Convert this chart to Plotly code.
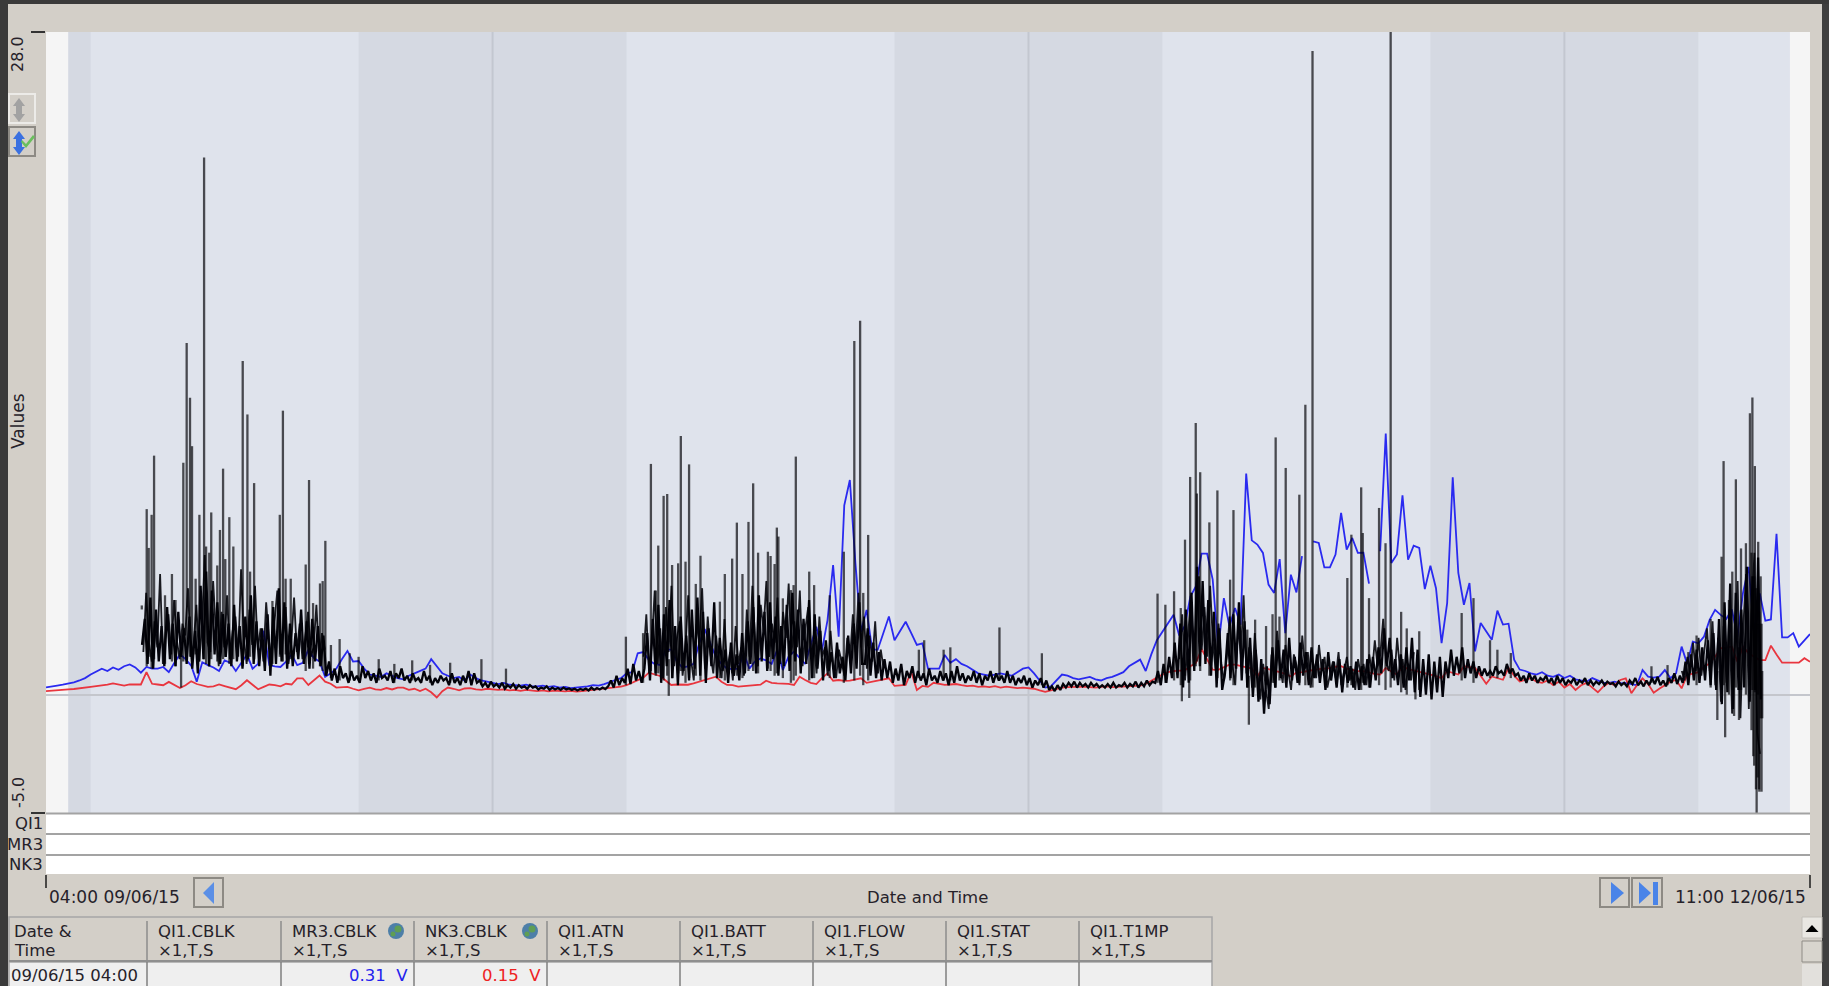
import pandas as pd
import plotly.graph_objects as go

W, H = 1829, 986
START = pd.Timestamp("2015-06-09 04:00")
END_HOURS = 79

# day / night shading, hours after the start
night_start = [1, 14, 38, 62]
night_end = [2, 26, 50, 74]
midnight = [20, 44, 68]
shade_start = 1
shade_end = 78.1

# 15 minute readings, 4 per hour
mr3_cblk = [
    .31,.33,.38,.42, .46,.52,.6,.7, .85,.98,1.1,1.0, 1.15,1.05,1.2,1.28,
    1.15,.93,1.17,1.1, 1.1,1.17,.95,1.35, 1.7,1.5,1.23,.55, 1.37,1.25,1.15,1.0,
    1.45,1.35,1.0,1.35, 1.7,1.1,1.3,2.7, 1.25,1.2,1.17,1.4, 1.7,1.25,1.35,1.9,
    1.55,1.4,.75,.9, 1.1,1.5,1.85,1.4, 1.42,1.1,.85,.8, .75,.9,.8,.7,
    .65,.8,.9,1.0, 1.1,1.5,1.2,.9, .8,.7,.75,.6, .85,.7,.6,.55,
    .5,.45,.5,.42, .4,.38,.42,.36, .35,.38,.33,.36, .3,.33,.28,.3,
    .3,.35,.4,.38, .45,.55,.62,.7, .9,.95,1.75,1.8, 1.46,1.3,1.25,1.9,
    1.9,1.4,1.15,1.2, 1.3,2.17,2.77,2.17, 1.6,1.3,1.1,1.08, 1.1,1.75,1.1,1.4,
    1.53,1.45,1.3,1.9, 1.04,1.6,1.82,1.55, 1.3,2.1,2.87,1.86, 3.15,5.48,2.45,8.0,
    9.07,5.55,2.66,3.58, 1.9,1.9,2.6,3.3, 2.3,2.7,3.08,2.6, 2.1,2.17,1.1,1.1,
    1.1,1.68,1.35,1.5, 1.3,1.2,1.05,.9, .85,.8,.85,.9, .85,.8,.95,1.1,
    1.15,.9,.6,.3, .35,.6,.85,.8, .7,.65,.7,.75, .65,.6,.7,.75,
    .85,.95,1.2,1.35, 1.48,1.0,1.7,2.3, 2.67,3.0,3.38,2.5, 2.9,4.15,4.58,5.96,
    5.96,4.86,1.97,4.08, 2.89,3.66,2.96,9.34, 6.52,6.34,5.99,4.65, 4.3,5.73,2.6,5.07,
    4.32,5.85,None,6.48, 6.41,5.38,5.38,5.92, 7.68,6.13,6.62,5.99, 6.0,4.69,None,6.06,
    11.03,5.56,5.92,8.42, 5.7,6.3,6.2,4.46, 5.45,4.5,2.18,3.87, 9.18,5.14,3.8,4.72,
    1.83,3.03,2.7,2.32, 3.55,2.96,3.0,1.48, 1.06,1.0,.9,.85, .95,.8,.75,.85,
    .7,.8,.65,.6, .55,.7,.6,.5, .5,.55,.48,.5, .45,.4,1.04,.76,
    .72,.76,1.04,.7, .9,2.03,1.3,2.24, 2.17,2.45,3.15,3.58, 3.37,3.2,3.6,2.45,
    4.3,5.4,2.6,4.28, 3.13,3.18,6.8,2.42, 2.42,2.6,2.03,2.3, 2.56,
]
nk3_cblk = [
    .15,.16,.18,.2, .22,.24,.26,.3, .33,.36,.38,.42, .48,.42,.38,.43,
    .43,.43,.95,.46, .43,.4,.54,.42, .28,.4,.57,.45, .38,.33,.35,.43,
    .36,.3,.23,.4, .61,.42,.23,.33, .43,.4,.35,.46, .43,.69,.69,.41,
    .6,.81,.55,.46, .3,.32,.33,.25, .18,.24,.3,.22, .2,.28,.22,.3,
    .3,.2,.25,.15, .25,.1,-.12,.15, .3,.25,.18,.26, .28,.22,.2,.25,
    .23,.2,.22,.18, .2,.16,.2,.18, .15,.18,.14,.17, .15,.14,.16,.13,
    .15,.18,.2,.22, .25,.28,.3,.34, .4,.5,.6,.72, .93,.85,.79,.6,
    .41,.43,.44,.42, .48,.55,.62,.7, .76,.55,.41,.4, .34,.36,.38,.41,
    .42,.59,.5,.48, .48,.46,.41,.76, .62,.5,.45,.7, .9,.59,.62,.58,
    .59,.65,.69,.5, .55,.62,.66,.69, .37,.38,.41,.97, .2,.37,.33,.5,
    .45,.41,.43,.45, .4,.36,.38,.33, .35,.32,.36,.3, .34,.31,.28,.3,
    .28,.25,.18,.12, .18,.25,.3,.32, .33,.36,.34,.32, .3,.33,.35,.32,
    .33,.36,.34,.37, .38,.45,.6,.72, .85,.95,1.0,1.03, 1.03,1.2,1.34,1.93,
    1.5,1.06,1.05,1.15, 1.27,1.27,1.22,1.15, 1.1,.77,1.13,1.08, 1.0,.95,.88,.77,
    .94,.95,1.0,1.05, 1.08,1.1,1.12,1.18, 1.2,1.1,1.05,1.0, .99,.92,.88,.85,
    1.13,.98,.85,1.2, 1.08,1.03,.98,.9, .85,.78,.7,.99, .92,.85,1.2,1.18,
    1.13,.8,.46,.77, .7,.63,1.13,.8, .56,.62,.7,.55, .5,.6,.4,.55,
    .3,.45,.2,.4, .5,.3,.1,.35, .5,.4,.62,.69, .06,.4,.69,.45,
    .08,.25,.41,.55, .62,.27,.83,.88, .95,1.18,1.32,1.6, 1.96,2.0,2.03,1.39,
    2.03,1.75,1.6,1.46, 1.46,2.07,1.7,1.35, 1.35,1.35,1.35,1.54, 1.39,
]

# QI1.CBLK dense part, one reading per 7.5 minutes from hour 4.3
qi1_burst_1 = [
    2.1,3.2,1.3,4.1,1.1,3.6,1.4,2.9,1.2,3.7,1.5,3.0,1.2,3.5,1.6,2.8,1.3,3.3,1.1,2.7,0.9,4.6,
    1.5,5.2,1.2,4.4,1.7,3.9,1.3,3.4,1.6,3.0,1.2,3.8,1.4,2.9,1.1,3.3,1.5,4.2,1.3,3.1,1.2,2.8,
    1.0,3.4,0.8,3.7,1.3,4.5,1.4,3.9,1.1,3.0,1.2,2.6,1.5,3.6,1.3,3.1,1.1,3.2,1.4,2.9,1.2,2.5,
]
qi1_quiet_1 = [
    0.8,1.4,0.6,1.1,0.5,1.2,0.7,0.9,0.5,1.0,0.6,0.8,0.5,1.2,0.7,1.0,0.6,0.9,0.5,1.1,0.7,0.8,
    0.6,1.0,0.5,0.9,0.7,1.1,0.6,0.8,0.5,0.9,0.6,0.7,0.5,1.0,0.6,0.8,0.4,0.7,0.5,0.8,0.6,0.7,
    0.4,0.9,0.5,0.7,0.4,0.8,0.5,1.0,0.4,0.9,0.5,
    0.6,0.35,0.5,0.3,0.55,0.35,0.45,0.3,0.5,0.25,0.4,0.3,0.45,0.25,0.4,0.3,0.35,0.25,0.4,0.3,
    0.35,0.22,0.3,0.25,0.35,0.2,0.3,0.22,0.28,0.2,0.3,0.22,0.26,0.2,0.25,0.18,0.24,0.2,0.26,
    0.18,0.3,0.2,0.28,0.22,0.3,0.24,
    0.35,0.6,0.3,0.8,0.4,0.7,0.5,1.1,0.45,1.3,0.6,1.0,0.5,
]
qi1_burst_2 = [
    1.1,2.6,0.6,3.2,0.9,3.8,0.5,3.4,1.2,4.0,0.7,2.9,0.4,3.3,1.0,2.5,0.6,3.6,1.1,4.1,0.8,3.5,
    0.5,2.8,1.2,3.9,0.7,2.4,1.0,1.9,0.5,2.2,0.8,1.7,0.6,2.6,0.9,3.1,1.3,3.7,0.9,4.2,1.4,3.5,
    1.0,3.9,1.5,3.3,0.8,2.9,1.2,3.8,1.0,4.3,1.4,3.6,0.9,3.2,1.3,4.0,0.7,3.4,1.1,2.7,0.6,2.3,
    1.0,1.8,0.7,2.2,0.9,1.6,0.6,2.5,0.9,3.0,1.1,3.9,1.3,
    1.3,2.8,0.8,2.2,0.7,1.8,0.6,1.5,
]
qi1_quiet_2 = [
    0.7,1.4,0.5,1.1,0.6,1.3,0.4,1.0,0.7,1.2,0.5,1.0,0.6,0.9,0.4,1.1,0.6,0.8,0.5,1.0,0.6,0.9,
    0.4,1.0,0.5,1.2,0.6,0.9,0.5,0.8,0.6,1.0,0.5,0.9,0.4,0.8,0.6,1.0,0.5,0.9,0.6,0.8,0.5,1.0,
    0.5,0.8,0.4,0.7,0.5,0.8,0.4,0.7,0.3,0.6,0.4,0.7,0.3,0.6,
    0.2,0.35,0.15,0.4,0.2,0.45,0.3,0.5,0.35,0.55,0.3,0.5,0.35,0.45,0.3,0.5,0.35,0.45,0.3,0.4,
    0.3,0.45,0.3,0.5,0.3,0.4,0.35,0.5,0.3,0.45,0.35,0.55,0.3,0.5,0.35,0.6,0.4,0.55,
    0.5,1.0,0.4,1.3,0.5,1.6,0.7,2.2,
]
qi1_burst_3 = [
    0.7,3.0,0.3,3.6,0.5,4.3,1.0,5.4,1.2,4.8,1.3,4.0,0.8,3.5,0.3,2.8,0.2,
    0.9,2.6,0.7,3.4,1.1,3.9,0.6,3.1,0.3,2.4,-0.1,1.9,-0.3,1.5,-0.8,1.2,-0.4,2.0,0.3,2.3,0.7,1.9,
    0.3,2.4,0.6,1.6,0.5,2.2,0.8,1.8,0.4,2.0,0.7,1.7,0.5,1.5,0.2,1.8,0.6,1.4,0.3,1.5,0.1,1.3,
    0.5,1.2,0.3,1.4,0.2,1.2,0.4,1.5,0.3,1.6,0.6,2.0,0.9,2.8,1.2,2.4,0.7,1.5,0.4,1.7,0.3,2.0,
    0.6,2.4,0.1,1.9,-0.1,1.5,0.0,1.7,-0.2,1.4,0.1,1.6,-0.1,1.4,
    0.7,1.9,0.8,1.6,0.9,2.0,0.7,1.5,0.9,1.4,0.7,1.2,0.8,1.1,0.8,1.0,0.8,1.2,0.9,1.0,0.8,1.3,
    0.9,1.1,0.8,
]
qi1_quiet_3 = [
    0.9,0.6,0.8,0.5,0.9,0.6,0.8,0.5,0.7,0.6,0.8,0.5,0.7,0.4,0.8,0.5,0.7,0.4,0.6,0.5,0.7,0.4,
    0.6,0.5,0.7,0.4,0.6,0.4,0.55,0.45,0.6,0.4,0.55,0.45,0.5,0.35,0.55,0.4,0.5,0.35,0.6,0.45,
    0.7,0.4,0.55,0.35,0.6,0.4,0.7,0.45,0.75,0.4,0.6,0.35,0.7,0.5,0.9,0.45,0.8,
]
qi1_burst_4 = [
    0.5,1.4,0.4,1.7,0.6,1.9,0.5,2.0,0.6,2.3,0.4,2.6,0.2,3.2,-0.4,3.9,0.1,4.7,-0.6,4.3,0.2,3.6,
    0.3,5.4,-0.3,5.0,0.2,5.8,-0.2,
]

# readings in between the ones above, for the busy stretches
qi1_between_1 = [
    1.8,4.3,2.2,1.4,3.1,2.0,5.1,1.3,2.6,3.4,1.7,4.0,2.3,1.5,3.0,2.5,4.5,1.6,2.1,3.8,1.4,2.9,
    5.9,2.2,1.8,4.8,2.6,1.2,3.5,2.0,4.2,1.5,2.7,3.3,1.6,5.3,2.4,1.3,3.6,2.1,4.6,1.9,2.8,1.4,
    3.9,2.3,1.2,3.1,4.4,1.7,2.5,3.7,1.3,2.2,4.1,1.8,3.0,1.5,2.4,3.5,1.6,2.0,3.8,1.4,2.6,1.9,
]
qi1_between_2 = [
    1.6,3.4,0.9,2.2,4.4,1.3,2.8,0.7,3.7,1.8,4.6,1.2,2.4,3.1,0.8,1.9,4.2,1.5,0.6,3.0,2.2,4.5,
    1.1,3.3,1.7,0.9,2.5,1.4,0.7,3.2,1.0,1.8,0.6,2.9,1.3,2.0,0.8,3.6,1.6,4.6,2.2,1.2,3.8,2.7,
    4.8,1.6,3.0,2.2,4.1,1.3,3.5,2.4,4.7,1.7,3.1,2.0,4.4,1.2,2.8,3.7,1.5,2.3,0.9,3.3,1.6,2.0,
    0.8,2.7,1.2,0.7,1.9,1.3,0.8,2.4,1.5,3.4,1.8,4.3,2.0,3.3,1.1,2.5,1.4,3.1,0.9,1.9,1.1,
]
qi1_between_3 = [
    1.5,3.4,0.6,2.4,4.0,1.2,3.0,5.0,1.9,3.7,1.6,4.6,2.2,1.0,3.0,1.3,0.6,
    1.6,3.3,1.2,0.4,2.9,1.7,4.2,0.9,2.0,0.3,2.6,0.9,-0.2,1.3,0.2,-0.6,1.7,0.5,2.7,1.2,0.5,2.1,
    1.0,0.2,1.7,1.2,0.4,2.5,1.1,1.8,0.3,1.3,0.7,2.1,1.0,1.6,0.3,0.9,1.4,0.7,1.8,0.4,1.0,1.6,
    0.6,1.1,0.2,1.5,0.8,1.3,0.4,1.7,0.9,2.3,1.2,1.7,3.2,1.4,1.0,1.9,0.6,2.4,1.1,1.5,0.2,1.3,
    0.6,1.8,
]
qi1_between_4 = [
    1.0,0.6,1.6,0.9,2.2,1.0,2.4,0.8,1.8,2.8,1.0,3.1,0.4,2.4,-0.3,2.9,0.5,3.6,-0.8,2.0,4.8,
    -1.0,2.8,5.1,-0.6,3.4,6.0,-1.6,-2.5,
]
between_starts = [4.36, 26.76, 50.76, 73.26]

# isolated QI1.CBLK spikes: hour, top, bottom
spike_hours = [
    4.29,4.51,4.6,4.73,4.84,5.33,5.64,5.8,6.05,6.15,6.3,6.45,6.54,6.7,6.87,7.08,7.17,7.31,7.4,7.67,
    7.79,7.93,8.03,8.21,8.39,8.81,9.02,9.14,9.32,10.14,10.47,10.61,10.73,10.96,11.63,11.78,11.96,
    12.27,12.39,12.51,12.76,13.15,13.6,14.0,14.9,15.6,16.4,17.2,18.1,19.5,20.6,
    25.97,26.74,27.09,27.31,27.42,27.66,27.82,27.89,28.04,28.31,28.43,28.64,28.8,29.1,29.31,30.18,
    30.4,30.73,30.94,31.19,31.46,31.67,31.89,32.33,32.45,32.63,32.73,32.8,33.0,33.36,33.48,33.58,
    34.18,34.4,35.1,35.73,36.2,36.46,36.6,36.82,39.09,39.33,40.2,40.5,42.7,44.6,
    49.78,50.13,50.52,50.82,50.87,51.01,51.2,51.24,51.49,51.54,51.69,52.1,52.46,53.03,53.18,53.8,53.87,
    54.15,54.64,54.93,55.07,55.24,55.52,56.13,56.4,56.72,58.28,58.46,58.9,58.97,59.25,59.7,59.99,
    60.22,60.69,60.94,61.33,61.5,63.4,63.93,64.67,65.0,65.6,
    71.9,72.62,73.55,73.92,74.55,74.85,75.04,75.13,75.2,75.37,75.52,75.6,75.68,75.82,75.91,76.13,
    76.31,76.42,76.46,76.53,76.61,76.68,76.73,76.79,76.83,
    76.38,76.5,76.58,76.65,76.72,76.86,
]
spike_tops = [
    3.77,7.84,6.2,7.6,10.1,4.2,5.1,4.0,2.0,9.8,14.86,12.55,10.5,4.9,7.6,22.7,6.26,6.0,7.7,5.46,
    6.96,9.55,5.73,7.5,6.26,14.1,11.84,5.2,8.94,3.96,7.6,12.0,4.9,4.9,5.5,9.07,3.87,
    4.7,4.8,6.5,2.1,2.35,1.75,1.6,1.5,1.3,1.45,1.26,1.35,1.5,1.1,
    2.45,2.6,9.75,4.4,6.3,8.4,8.48,1.5,5.48,5.55,10.93,5.62,9.73,4.68,5.87,3.93,
    5.1,5.75,7.27,5.1,7.3,8.93,6.0,6.04,5.86,5.52,7.06,6.68,4.07,4.42,4.63,10.06,
    5.2,4.63,4.2,6.04,14.94,15.8,4.3,6.75,1.9,2.3,1.9,2.0,2.84,1.75,
    4.27,3.8,4.37,3.66,1.5,6.55,1.5,9.2,11.48,8.5,9.4,7.28,8.63,4.86,7.8,2.75,0.8,
    3.17,2.9,3.4,10.87,3.3,9.58,8.45,12.25,27.2,4.93,6.76,8.76,6.83,4.08,7.89,6.4,
    29.0,3.5,2.8,1.0,2.68,3.45,4.08,2.3,1.9,1.76,
    1.2,1.25,1.8,2.5,3.2,1.0,5.83,9.87,2.0,4.0,5.2,1.5,9.1,2.0,6.18,6.4,
    11.89,12.56,3.0,9.66,3.0,6.46,3.0,5.0,3.0,
    6.0,5.0,4.5,4.0,3.5,1.0,
]
spike_bases = [
    3.6,1.2,1.6,1.1,1.5,1.3,1.4,1.2,0.3,1.4,2.0,1.6,1.5,1.7,1.4,1.5,1.3,1.2,1.5,1.4,
    1.6,1.5,1.6,1.3,1.5,1.2,1.4,1.6,1.5,1.3,1.6,1.4,1.7,1.5,1.0,1.3,1.1,
    1.2,1.0,0.8,0.7,0.6,0.6,0.6,0.6,0.5,0.6,0.5,0.5,0.4,0.3,
    0.4,0.5,1.0,0.8,0.9,0.6,0.8,-0.05,0.7,0.9,1.0,0.5,0.7,0.8,0.6,0.7,
    0.6,0.9,0.8,0.7,1.0,1.0,0.9,1.1,1.0,0.8,0.9,1.1,0.7,0.5,0.6,0.8,
    0.6,0.7,0.7,0.5,0.6,0.8,0.4,0.6,0.7,0.7,0.6,0.6,0.6,0.4,
    0.5,0.5,0.6,0.4,-0.28,0.8,-0.14,0.6,1.2,1.4,1.0,0.8,0.7,0.6,0.4,0.3,-1.27,
    0.3,0.4,0.5,0.3,0.6,0.5,0.5,0.4,0.3,0.3,0.4,0.2,0.5,0.3,0.4,0.2,
    0.3,0.1,0.0,-0.2,0.2,0.6,0.5,0.7,0.7,0.7,
    0.5,0.4,0.5,0.4,0.3,-1.07,0.2,0.4,-1.8,0.0,0.2,-0.9,0.3,-1.07,0.2,0.0,
    0.4,0.2,-2.6,0.1,-5.2,0.0,-4.1,-1.0,-4.1,
    -1.5,-3.0,-4.0,-3.5,-4.0,-1.0,
]

table_columns = ["QI1.CBLK", "MR3.CBLK", "NK3.CBLK", "QI1.ATN", "QI1.BATT", "QI1.FLOW", "QI1.STAT", "QI1.T1MP"]
channel_rows = ["QI1", "MR3", "NK3"]


def stamp(hours):
    return START + pd.to_timedelta(hours, unit="h")


def px(x):
    return x / W


def py(y):
    return 1 - y / H


FONT = "DejaVu Sans"
BG = "#d3cfc8"
TEXT = "#26222a"
shapes = []
annotations = []


def box(x0, y0, x1, y1, fill=None, line=None, width=1, layer="above"):
    shapes.append(dict(type="rect", xref="paper", yref="paper", x0=px(x0), x1=px(x1), y0=py(y1), y1=py(y0),
                       fillcolor=fill, line=dict(color=line, width=width if line else 0), layer=layer))


def poly(points, fill):
    path = "M " + " L ".join(f"{px(a)},{py(b)}" for a, b in points) + " Z"
    shapes.append(dict(type="path", xref="paper", yref="paper", path=path, fillcolor=fill, line=dict(width=0), layer="above"))


def dot(x, y, r, fill):
    shapes.append(dict(type="circle", xref="paper", yref="paper", x0=px(x - r), x1=px(x + r), y0=py(y + r), y1=py(y - r),
                       fillcolor=fill, line=dict(width=0), layer="above"))


def label(x, y, text, size=16, anchor="left", angle=0, color=TEXT):
    annotations.append(dict(xref="paper", yref="paper", x=px(x), y=py(y), text=text, showarrow=False, xanchor=anchor,
                            yanchor="middle", textangle=angle, font=dict(family=FONT, size=size, color=color)))


fig = go.Figure()
fig.add_trace(go.Scatter(x=stamp(pd.Series([i * 0.25 for i in range(len(mr3_cblk))])), y=mr3_cblk, mode="lines",
                         line=dict(color="#2a2af0", width=1.8), connectgaps=False))
fig.add_trace(go.Scatter(x=stamp(pd.Series([i * 0.25 for i in range(len(nk3_cblk))])), y=nk3_cblk, mode="lines",
                         line=dict(color="#e9363f", width=1.8)))

between_parts = [qi1_between_1, qi1_between_2, qi1_between_3, qi1_between_4]
for start, part in zip(between_starts, between_parts):
    fig.add_trace(go.Scatter(x=stamp(pd.Series([start + i * 0.125 for i in range(len(part))])), y=part, mode="lines",
                             line=dict(color="rgba(3,3,10,0.9)", width=1.8)))

qi1_dense = qi1_burst_1 + qi1_quiet_1 + qi1_burst_2 + qi1_quiet_2 + qi1_burst_3 + qi1_quiet_3 + qi1_burst_4
fig.add_trace(go.Scatter(x=stamp(pd.Series([4.3 + i * 0.125 for i in range(len(qi1_dense))])), y=qi1_dense, mode="lines",
                         line=dict(color="#03030a", width=2.3)))

spike_x, spike_y = [], []
for h, top, base in zip(spike_hours, spike_tops, spike_bases):
    spike_x += [stamp(h), stamp(h), None]
    spike_y += [base, top, None]
fig.add_trace(go.Scatter(x=spike_x, y=spike_y, mode="lines", line=dict(color="rgba(0,0,5,0.68)", width=2.3)))

# plot shading
shapes.append(dict(type="rect", xref="x", yref="y domain", x0=stamp(shade_start), x1=stamp(shade_end), y0=0, y1=1,
                   fillcolor="#dfe3ec", line=dict(width=0), layer="below"))
for a, b in zip(night_start, night_end):
    shapes.append(dict(type="rect", xref="x", yref="y domain", x0=stamp(a), x1=stamp(b), y0=0, y1=1,
                       fillcolor="#d5d9e2", line=dict(width=0), layer="below"))
for m in midnight:
    shapes.append(dict(type="line", xref="x", yref="y domain", x0=stamp(m), x1=stamp(m), y0=0, y1=1,
                       line=dict(color="#c3c7d0", width=2), layer="below"))

# window frame
box(0, 0, 8, H, "#3a3a3a")
box(1822, 0, W, H, "#3f3f3f")
box(0, 0, W, 4, "#3a3a3a")

# channel rows under the plot
box(46, 813, 1810, 874, "#ffffff")
for y in [813.5, 834, 855]:
    shapes.append(dict(type="line", xref="paper", yref="paper", x0=px(46), x1=px(1810), y0=py(y), y1=py(y),
                       line=dict(color="#a3a3a3", width=2), layer="above"))
for name, y in zip(channel_rows, [823, 844, 864]):
    label(45, y, name, size=16.5, anchor="right")

# end ticks of the time axis
for x in [46, 1810]:
    shapes.append(dict(type="line", xref="paper", yref="paper", x0=px(x), x1=px(x), y0=py(875), y1=py(888),
                       line=dict(color="#1c1c1c", width=1.5), layer="above"))

label(47, 897, "04:00 09/06/15", size=17)
label(928, 897, "Date and Time", size=16.5, anchor="center")
label(1808, 897, "11:00 12/06/15", size=17, anchor="right")
label(18, 421, "Values", size=17, anchor="center", angle=-90)
label(18, 54, "28.0", size=16, anchor="center", angle=-90)
label(18, 793, "-5.0", size=16, anchor="center", angle=-90)

# navigation buttons
for x0, x1 in [(194, 223), (1600, 1629), (1632, 1662)]:
    box(x0, 878, x1, 907, None, "#8d8a84", 2)
poly([(203, 893), (214, 882), (214, 904)], "#5b8fe6")
poly([(1611, 882), (1624, 893), (1611, 904)], "#4a84e8")
poly([(1639, 882), (1651, 893), (1639, 904)], "#4a84e8")
box(1653, 882, 1658, 905, "#4a84e8")

# y zoom buttons
box(9, 94, 35, 123, "#d3cfc8", "#ecebe8", 2)
box(9, 127, 35, 156, "#d3cfc8", "#8d8a84", 2)
poly([(19, 98), (25, 106), (22, 106), (22, 114), (25, 114), (19, 122), (13, 114), (16, 114), (16, 106), (13, 106)], "#a2a2a2")
poly([(19, 131), (25, 139), (22, 139), (22, 147), (25, 147), (19, 155), (13, 147), (16, 147), (16, 139), (13, 139)], "#3a70e0")
poly([(22, 140), (26, 144), (33, 135), (35, 137), (26, 148), (21, 142)], "#6abf5e")

# table under the chart
box(9, 917, 1212, 961, BG, "#a6a6a6", 1.5)
box(9, 962, 1212, H + 2, "#efefef", "#a6a6a6", 1.5)
shapes.append(dict(type="line", xref="paper", yref="paper", x0=px(9), x1=px(1212), y0=py(961), y1=py(961),
                   line=dict(color="#8f8f8f", width=2), layer="above"))
col_edges = [147, 281, 414, 547, 680, 813, 946, 1079]
for x in col_edges:
    shapes.append(dict(type="line", xref="paper", yref="paper", x0=px(x), x1=px(x), y0=py(921), y1=py(960),
                       line=dict(color="#8c8c8c", width=1.5), layer="above"))
    shapes.append(dict(type="line", xref="paper", yref="paper", x0=px(x), x1=px(x), y0=py(962), y1=py(H),
                       line=dict(color="#7f7f7f", width=1.5), layer="above"))
label(12, 931, "Date &", size=16.5)
label(12, 950, "Time", size=16.5)
for x, name in zip(col_edges, table_columns):
    label(x + 9, 931, name, size=16.5)
    label(x + 9, 950, "×1,T,S", size=16.5)
for cx in [396, 530]:
    dot(cx, 931, 8, "#4d7fa8")
    dot(cx + 2, 929, 3.5, "#5f9e54")
    dot(cx - 3, 934, 2.5, "#5f9e54")
label(9, 975, "09/06/15 04:00", size=16.5)
label(410, 975, "0.31  V", size=16.5, anchor="right", color="#2222ee")
label(543, 975, "0.15  V", size=16.5, anchor="right", color="#ee2222")

# scroll bar
box(1802, 917, 1822, 938, "#e9e7e2", "#c2bfb9", 1)
poly([(1805.5, 932), (1812, 925), (1818.5, 932)], "#000000")
box(1802, 941, 1822, 962, "#d8d5ce", "#8e8b85", 1)
box(1802, 964, 1822, H, "#e2e0dc")

fig.update_layout(
    width=W, height=H, margin=dict(l=0, r=0, t=0, b=0),
    paper_bgcolor=BG, plot_bgcolor="#f5f5f5", showlegend=False,
    shapes=shapes, annotations=annotations,
    xaxis=dict(domain=[px(46), px(1810)], range=[stamp(0), stamp(END_HOURS)], type="date",
               showgrid=False, showticklabels=False, ticks="", zeroline=False),
    yaxis=dict(domain=[py(813), py(32)], range=[-5, 28], showgrid=False, showticklabels=False,
               tickvals=[-5, 28], ticks="outside", ticklen=14, tickwidth=1.5, tickcolor="#333333",
               zeroline=True, zerolinecolor="#c4c6cc", zerolinewidth=1.5),
)

fig.write_html("out.html", config=dict(displayModeBar=False),
               post_script="document.body.style.margin='0';document.body.style.overflow='hidden';")
